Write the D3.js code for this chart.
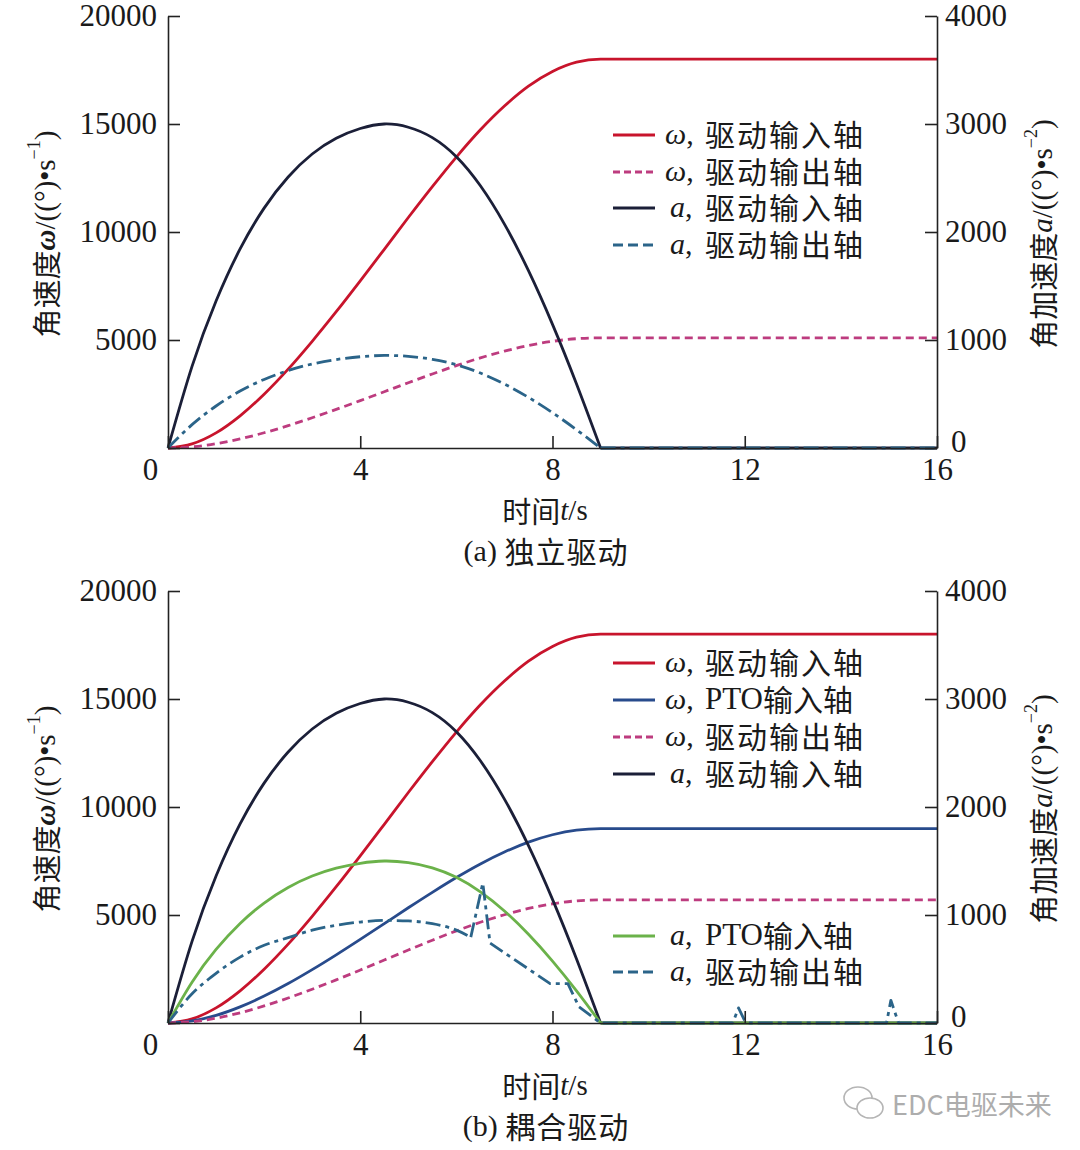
<!DOCTYPE html>
<html><head><meta charset="utf-8">
<script src="https://cdn.jsdelivr.net/npm/d3@7"></script>
<style>body{margin:0;background:#fff}</style>
</head><body>
<svg id="c" width="1080" height="1150"></svg>
<script>
// ---------- data ----------
const timeGrid = [0,0.5,1,1.5,2,2.5,3,3.5,4,4.5,5,5.5,6,6.5,7,7.5,8,8.5,9,16];
// (a) 独立驱动
const omegaInA  = [0,190,700,1490,2490,3650,4940,6310,7740,9200,10670,12100,13470,14730,15830,16750,17430,17860,18000,18000];
const omegaOutA = [0,54,198,422,705,1034,1400,1788,2193,2607,3023,3428,3816,4173,4485,4746,4938,5060,5100,5100];
const alphaInA  = [0,756,1361,1843,2221,2509,2722,2868,2958,3000,2970,2874,2697,2428,2073,1642,1145,593,0,0];
const alphaOutA = [0,216,389,527,635,717,778,819,845,857,849,821,771,694,592,469,327,169,0,0];
// (b) 耦合驱动
const omegaInB  = [0,190,700,1490,2490,3650,4940,6310,7740,9200,10670,12100,13470,14730,15830,16750,17430,17860,18000,18000];
const omegaPtoB = [0,95,350,745,1245,1825,2470,3155,3870,4600,5335,6050,6735,7365,7915,8375,8715,8930,9000,9000];
const omegaOutB = [0,60,222,472,789,1156,1565,1998,2451,2914,3379,3832,4266,4665,5013,5305,5520,5656,5700,5700];
const alphaInB  = [0,756,1361,1843,2221,2509,2722,2868,2958,3000,2970,2874,2697,2428,2073,1642,1145,593,0,0];
const alphaPtoB = [0,378,681,922,1111,1255,1361,1434,1479,1500,1485,1437,1349,1214,1037,821,573,297,0,0];
const alphaOutBTime = [0,0.5,1,1.5,2,2.5,3,3.5,4,4.5,5,5.5,6,6.3,6.55,6.7,7,7.5,7.95,8.32,8.55,9,11.75,11.87,12.0,12.1,14.95,15.04,15.2,16];
const alphaOutB     = [0,270,460,610,720,790,860,905,935,950,945,920,860,795,1296,741,650,500,365,365,150,0,0,140,20,0,0,210,0,0];

const xTicks = [0,4,8,12,16];
const omegaTicks = [0,5000,10000,15000,20000];
const alphaTicks = [0,1000,2000,3000,4000];

// ---------- styles ----------
const C = {red:"#c8142c", pink:"#bd3c7f", navy:"#1b1f38", teal:"#2b6489", blue:"#284b8c", green:"#6bb24a"};
const SERIF = "'Liberation Serif','Times New Roman',serif";
const CJK = "'Noto Sans CJK SC','Noto Sans',sans-serif";
const DASH = "8,5", DASHDOT = "15,5,4,5";

const svg = d3.select("#c");
const X0 = 168, X1 = 937;
const x = d3.scaleLinear().domain([0,16]).range([X0,X1]);

function panel(top, bottom, series, legendRows, tag, caption){
  const yL = d3.scaleLinear().domain([0,20000]).range([bottom, top]);
  const yR = d3.scaleLinear().domain([0,4000]).range([bottom, top]);
  const g = svg.append("g");

  // lines
  series.forEach(s=>{
    const ys = s.axis === "L" ? yL : yR;
    const mk = c => d3.line().x(d=>x(d[0])).y(d=>ys(d[1])).curve(c);
    const pts = s.t.map((t,i)=>[t,s.v[i]]);
    // smooth part up to the corner time, then straight segments
    const parts = s.corner != null
      ? [[pts.filter(p=>p[0]<=s.corner), s.smooth || d3.curveNatural], [pts.filter(p=>p[0]>=s.corner), d3.curveLinear]]
      : [[pts, s.curve || d3.curveMonotoneX]];
    parts.forEach(([p,c])=>{
      g.append("path").datum(p)
        .attr("d", mk(c)).attr("fill","none").attr("stroke", s.color)
        .attr("stroke-width", 2.8).attr("stroke-dasharray", s.dash || null)
        .attr("stroke-linejoin","round");
    });
  });

  // axes
  const axL = g.append("g").attr("transform",`translate(${X0},0)`)
    .call(d3.axisLeft(yL).tickValues(omegaTicks).tickSize(-12).tickSizeOuter(0).tickPadding(11).tickFormat(d=>d===0?"":d));
  const axR = g.append("g").attr("transform",`translate(${X1},0)`)
    .call(d3.axisRight(yR).tickValues(alphaTicks).tickSize(-12).tickSizeOuter(0).tickPadding(8).tickFormat(d=>d));
  const axB = g.append("g").attr("transform",`translate(0,${bottom})`)
    .call(d3.axisBottom(x).tickValues(xTicks).tickSize(-12).tickSizeOuter(0).tickPadding(10).tickFormat(d=>d));
  [axL,axR,axB].forEach(a=>{
    a.selectAll("path,line").attr("stroke","#222").attr("stroke-width",1.6);
    a.selectAll("text").attr("font-family",SERIF).attr("font-size",31).attr("fill","#1a1a1a");
  });
  axB.selectAll(".tick text").filter(d=>d===0).attr("dx",-18);
  axR.selectAll(".tick text").filter(d=>d===0).attr("dx",6).attr("dy","0.12em");

  // left axis title
  const midY = (top+bottom)/2 + 2;
  const tl = g.append("text").attr("transform",`translate(45,${midY}) rotate(-90)`)
    .attr("text-anchor","middle").attr("dominant-baseline","central").attr("font-size",29).attr("fill","#1a1a1a");
  tl.append("tspan").attr("font-family",CJK).text("角速度");
  tl.append("tspan").attr("font-family",SERIF).attr("font-style","italic").attr("font-weight","bold").text("ω");
  tl.append("tspan").attr("font-family",SERIF).text("/((°)•s");
  tl.append("tspan").attr("font-family",SERIF).attr("font-size",18).attr("dy",-11).text("−1");
  tl.append("tspan").attr("font-family",SERIF).attr("dy",11).text(")");

  const tr = g.append("text").attr("transform",`translate(1042,${midY}) rotate(-90)`)
    .attr("text-anchor","middle").attr("dominant-baseline","central").attr("font-size",29).attr("fill","#1a1a1a");
  tr.append("tspan").attr("font-family",CJK).text("角加速度");
  tr.append("tspan").attr("font-family",SERIF).attr("font-style","italic").text("a");
  tr.append("tspan").attr("font-family",SERIF).text("/((°)•s");
  tr.append("tspan").attr("font-family",SERIF).attr("font-size",18).attr("dy",-11).text("−2");
  tr.append("tspan").attr("font-family",SERIF).attr("dy",11).text(")");

  // x title
  const xt = g.append("text").attr("x",545).attr("y",bottom+62).attr("text-anchor","middle")
    .attr("dominant-baseline","central").attr("font-size",29).attr("fill","#1a1a1a");
  xt.append("tspan").attr("font-family",CJK).text("时间");
  xt.append("tspan").attr("font-family",SERIF).attr("font-style","italic").text("t");
  xt.append("tspan").attr("font-family",SERIF).text("/s");

  const cp = g.append("text").attr("x",546).attr("y",bottom+102).attr("text-anchor","middle")
    .attr("dominant-baseline","central").attr("font-size",30).attr("fill","#1a1a1a");
  cp.append("tspan").attr("font-family",SERIF).text(tag+" ");
  cp.append("tspan").attr("font-family",CJK).attr("letter-spacing",1).text(caption);

  // legend
  legendRows.forEach(r=>{
    g.append("line").attr("x1",613).attr("x2",655).attr("y1",r.y).attr("y2",r.y)
      .attr("stroke",r.color).attr("stroke-width",3.2).attr("stroke-dasharray",r.ldash||null);
    const t = g.append("text").attr("y",r.y-2).attr("dominant-baseline","central").attr("font-size",30).attr("fill","#1a1a1a");
    t.append("tspan").attr("x", r.sym==="ω"?665:670).attr("font-family",SERIF).attr("font-style","italic").text(r.sym);
    t.append("tspan").attr("font-family",SERIF).text(",");
    if (r.pto){
      t.append("tspan").attr("x",705).attr("font-family",SERIF).attr("font-size",31).text("PTO");
      t.append("tspan").attr("font-family",CJK).text(r.label);
    } else {
      t.append("tspan").attr("x",705).attr("font-family",CJK).attr("letter-spacing",2).text(r.label);
    }
  });
}

panel(16, 448, [
  {t:timeGrid, v:omegaInA, axis:"L", color:C.red},
  {t:timeGrid, v:omegaOutA, axis:"L", color:C.pink, dash:DASH},
  {t:timeGrid, v:alphaInA, axis:"R", color:C.navy, corner:9},
  {t:timeGrid, v:alphaOutA, axis:"R", color:C.teal, dash:DASHDOT, corner:9},
], [
  {y:135, sym:"ω", label:"驱动输入轴", color:C.red},
  {y:172, sym:"ω", label:"驱动输出轴", color:C.pink, ldash:"7,4"},
  {y:208, sym:"a", label:"驱动输入轴", color:C.navy},
  {y:245, sym:"a", label:"驱动输出轴", color:C.teal, ldash:"10,5"},
], "(a)", "独立驱动");

panel(591, 1023, [
  {t:timeGrid, v:omegaInB, axis:"L", color:C.red},
  {t:timeGrid, v:omegaPtoB, axis:"L", color:C.blue},
  {t:timeGrid, v:omegaOutB, axis:"L", color:C.pink, dash:DASH},
  {t:timeGrid, v:alphaInB, axis:"R", color:C.navy, corner:9},
  {t:timeGrid, v:alphaPtoB, axis:"R", color:C.green, corner:9},
  {t:alphaOutBTime, v:alphaOutB, axis:"R", color:C.teal, dash:DASHDOT, corner:6.3, smooth:d3.curveMonotoneX},
], [
  {y:663, sym:"ω", label:"驱动输入轴", color:C.red},
  {y:700, sym:"ω", label:"输入轴", pto:true, color:C.blue},
  {y:737, sym:"ω", label:"驱动输出轴", color:C.pink, ldash:"7,4"},
  {y:774, sym:"a", label:"驱动输入轴", color:C.navy},
  {y:936, sym:"a", label:"输入轴", pto:true, color:C.green},
  {y:972, sym:"a", label:"驱动输出轴", color:C.teal, ldash:"10,5"},
], "(b)", "耦合驱动");

// watermark
const wm = svg.append("g").attr("stroke","#b5b5b5").attr("fill","#fff").attr("stroke-width",1.6);
wm.append("ellipse").attr("cx",858).attr("cy",1098).attr("rx",14).attr("ry",11);
wm.append("ellipse").attr("cx",870).attr("cy",1108).attr("rx",13).attr("ry",10);
svg.append("text").attr("x",892).attr("y",1103).attr("dominant-baseline","central")
  .attr("font-family",CJK).attr("font-size",27).attr("fill","#adadad").text("EDC电驱未来");
</script>
</body></html>
